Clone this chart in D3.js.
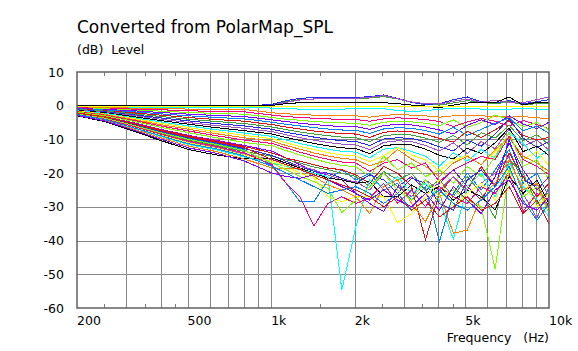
<!DOCTYPE html>
<html>
<head>
<meta charset="utf-8">
<script src="https://cdn.jsdelivr.net/npm/d3@7"></script>
<style>
body { margin: 0; background: #fff; }
text { font-family: "DejaVu Sans", Verdana, sans-serif; fill: #000; }
</style>
</head>
<body>
<div id="chart"></div>
<script>
// frequency points shared by every curve (Hz)
var freqs = [200, 252, 318, 400, 504, 635, 800, 1008, 1131, 1270, 1425, 1600, 1796, 2016,
             2263, 2540, 2851, 3200, 3592, 4032, 4525, 5080, 5702, 6400, 7184, 8063, 9051, 10000];

var yTicks = [10, 0, -10, -20, -30, -40, -50, -60];
var gridFreqs = [300, 400, 500, 600, 700, 800, 900, 1000, 2000, 3000, 4000, 5000, 6000, 7000, 8000, 9000];
var minorFreqs = [250, 350, 450, 1500, 2500, 3500, 4500];
var xLabelFreqs = [200, 500, 1000, 2000, 5000, 10000];
var xLabelText = ["200", "500", "1k", "2k", "5k", "10k"];

var palette = ["#40a040", "#2828e8", "#a050c8", "#000000", "#00ffff", "#ffff00",
               "#ff8000", "#ff0080", "#80ff00", "#8000ff", "#0080ff", "#e01010"];

// levels (dB), one array per curve
var lvl00 = [-0.3,-0.3,-0.3,-0.3,-0.4,-0.4,-0.4,0.3,1.2,1.8,2.0,2.0,2.0,2.1,2.3,2.7,2.0,1.0,0.3,0.2,0.8,1.5,1.0,0.5,1.2,0.3,0.6,0.8];
var lvl01 = [-0.1,-0.1,-0.1,-0.2,-0.2,-0.2,-0.1,0.4,1.5,2.2,2.4,2.4,2.4,2.4,2.7,3.2,2.2,1.0,0.4,0.6,1.8,2.6,1.2,0.8,1.5,0.6,1.2,1.8];
var lvl02 = [-0.2,-0.2,-0.2,-0.2,-0.3,-0.3,-0.3,0.1,1.0,1.7,2.0,2.0,2.1,2.2,2.5,3.0,2.1,1.1,0.6,0.5,1.3,2.0,1.0,1.6,1.0,0.9,1.8,2.6];
var lvl03 = [0,0,0,0,0,0,0,0.1,0.6,0.9,0.9,0.9,0.9,0.9,0.9,0.9,0.6,0.2,-0.1,-0.6,0.2,0.8,1.0,0.9,2.6,0.2,1.0,0.9];
var lvl04 = [-0.3,-0.3,-0.4,-0.4,-0.5,-0.5,-0.5,-0.7,-0.9,-1.0,-1.1,-1.1,-1.0,-0.9,-0.8,-0.9,-1.4,-1.7,-1.5,-1.0,-0.9,-0.8,-1.0,-1.2,-1.0,-0.9,-1.0,-1.0];
var lvl05 = [-0.1,-0.1,-0.2,-0.2,-0.2,-0.3,-0.3,-0.3,-0.3,-0.3,-0.3,-0.3,-0.3,-0.3,-0.3,-0.3,-0.3,-0.3,-0.3,-0.3,-0.3,-0.3,-0.3,-0.3,-0.3,-0.3,-0.3,-0.3];
var lvl06 = [-0.5,-0.6,-0.7,-0.8,-1.0,-1.1,-1.1,-2.1,-2.4,-2.6,-2.8,-2.9,-3.0,-3.0,-3.4,-2.9,-2.6,-2.8,-3.0,-3.4,-3.0,-2.8,-3.0,-3.2,-3.4,-3.2,-3.6,-3.8];
var lvl07 = [-0.6,-0.8,-1.0,-1.2,-1.5,-1.7,-1.8,-2.8,-3.2,-3.5,-3.7,-3.9,-4.1,-4.1,-4.6,-3.9,-3.6,-3.8,-4.1,-4.7,-6.2,-4.8,-3.8,-4.6,-6.0,-4.4,-5.6,-6.8];
var lvl08 = [-0.7,-0.9,-1.3,-1.6,-2.0,-2.3,-2.5,-3.5,-4.0,-4.3,-4.7,-4.9,-5.1,-5.2,-5.8,-4.9,-4.6,-4.8,-5.2,-5.9,-4.2,-6.4,-5.0,-2.8,-4.0,-6.2,-5.0,-7.2];
var lvl09 = [-0.8,-1.1,-1.5,-2.0,-2.5,-2.9,-3.2,-4.2,-4.7,-5.2,-5.6,-5.9,-6.2,-6.2,-7.0,-5.9,-5.5,-5.7,-6.3,-7.2,-8.4,-5.8,-4.2,-5.6,-3.0,-5.4,-6.8,-4.9];
var lvl10 = [-0.9,-1.3,-1.8,-2.4,-3.0,-3.5,-3.9,-4.9,-5.5,-6.0,-6.5,-6.9,-7.2,-7.3,-8.2,-6.9,-6.5,-6.7,-7.4,-8.4,-6.4,-8.8,-7.0,-5.2,-3.6,-7.4,-6.0,-8.2];
var lvl11 = [-1.0,-1.5,-2.1,-2.8,-3.5,-4.1,-4.6,-5.6,-6.3,-6.9,-7.5,-7.9,-8.3,-8.4,-9.4,-7.9,-7.5,-7.7,-8.5,-9.7,-10.8,-7.6,-9.4,-7.2,-4.4,-8.8,-10.2,-9.4];
var lvl12 = [-1.1,-1.6,-2.4,-3.2,-4.0,-4.7,-5.3,-6.3,-7.1,-7.8,-8.4,-8.9,-9.3,-9.5,-10.6,-8.9,-8.5,-8.7,-9.6,-10.9,-8.8,-11.6,-8.0,-9.6,-5.8,-10.4,-8.6,-11.6];
var lvl13 = [-1.2,-1.8,-2.7,-3.6,-4.5,-5.3,-6.0,-7.0,-7.9,-8.6,-9.3,-9.9,-10.4,-10.6,-11.8,-9.9,-9.5,-9.7,-10.7,-12.2,-13.4,-10.2,-12.0,-8.4,-3.8,-9.6,-12.4,-10.6];
var lvl14 = [-1.3,-2.0,-2.9,-4.0,-5.0,-5.9,-6.7,-7.7,-8.6,-9.5,-10.2,-10.9,-11.4,-11.6,-13.0,-10.9,-10.4,-10.6,-11.8,-13.4,-11.0,-14.2,-10.6,-12.8,-7.0,-12.0,-10.2,-13.2];
var lvl15 = [-1.4,-2.1,-3.2,-4.4,-5.5,-6.5,-7.4,-8.4,-9.4,-10.3,-11.2,-11.9,-12.5,-12.7,-14.2,-11.9,-11.4,-11.6,-12.9,-14.7,-15.8,-12.6,-14.2,-11.0,-6.6,-13.6,-12.0,-14.8];
var lvl16 = [-1.5,-2.3,-3.5,-4.8,-6.0,-7.1,-8.1,-9.1,-10.2,-11.2,-12.1,-12.9,-13.5,-13.8,-15.4,-12.9,-12.4,-13.6,-15.0,-17.9,-14.0,-16.4,-13.0,-15.6,-7.9,-11.2,-15.6,-12.8];
var lvl17 = [-1.6,-2.5,-3.8,-5.2,-6.5,-7.7,-8.8,-9.8,-11.0,-12.1,-13.0,-13.9,-14.6,-14.9,-16.6,-14.9,-12.4,-14.6,-16.1,-19.2,-16.1,-14.8,-17.6,-13.5,-9.4,-16.0,-13.6,-17.9];
var lvl18 = [-1.7,-2.6,-4.1,-5.6,-7.0,-8.3,-9.5,-10.5,-11.8,-12.9,-14.0,-14.9,-15.6,-16.0,-17.8,-16.5,-13.0,-15.8,-18.0,-21.0,-17.0,-15.0,-17.5,-13.0,-9.5,-15.0,-17.0,-19.5];
var lvl19 = [-1.8,-2.8,-4.3,-6.0,-7.5,-8.9,-10.2,-11.2,-12.5,-13.8,-14.9,-15.9,-16.7,-17.0,-19.5,-17.0,-16.0,-18.5,-17.0,-22.5,-19.0,-17.0,-15.0,-16.0,-9.0,-16.0,-18.0,-20.5];
var lvl20 = [-1.9,-3.0,-4.6,-6.4,-8.0,-9.5,-10.9,-11.9,-13.3,-14.6,-15.8,-16.9,-17.7,-18.1,-21.0,-15.0,-19.0,-17.0,-21.0,-19.0,-23.0,-18.0,-21.0,-15.0,-8.0,-18.0,-16.0,-22.0];
var lvl21 = [-2.1,-3.3,-5.0,-7.0,-8.8,-10.3,-11.8,-13.5,-15.5,-17.5,-19.5,-20.5,-22,-26,-29,-31.4,-24,-21,-25,-23,-19,-24,-28,-21,-11,-19,-25,-21];
var lvl22 = [-2.3,-3.6,-5.6,-7.8,-9.8,-11.3,-13.0,-18,-23,-28.5,-28.5,-22,-19,-22,-20,-25,-23,-28,-24,-40.3,-26,-20,-25,-19,-13,-23,-20,-27];
var lvl23 = [-2.1,-3.3,-5.2,-7.2,-9.0,-10.5,-12.1,-14,-15.5,-16.5,-17.5,-18.5,-19,-20.5,-23,-18,-20,-24,-39.8,-26,-21,-25,-18,-24,-14,-21,-27,-23];
var lvl24 = [-2.4,-3.8,-5.9,-8.2,-10.3,-11.8,-13.6,-15,-16,-17,-18.2,-19,-20,-21,-24,-19.5,-22,-20,-25,-22,-27,-21,-26,-33.4,-16,-20,-29,-25];
var lvl25 = [-2.2,-3.5,-5.5,-7.6,-9.5,-11.0,-12.7,-14.8,-16.5,-18,-19.5,-20,-21.5,-23,-20.5,-22,-26,-21.5,-23,-29,-31,-22,-19,-24,-10,-22,-24,-30];
var lvl26 = [-2.5,-3.9,-6.2,-8.5,-10.8,-12.3,-14.3,-16,-17,-18,-19,-20.5,-22,-22.5,-25,-20,-24,-27,-22,-25,-21,-26,-23,-20,-15,-26,-33.4,-24];
var lvl27 = [-3.0,-4.7,-7.5,-10.3,-13.0,-14.6,-15.8,-15.5,-17,-18.5,-20,-21.5,-22,-23,-22.5,-27,-27,-23.5,-26,-24,-28,-25,-27,-30.9,-21,-26,-22,-29];
var lvl28 = [-2.7,-4.2,-6.6,-9.1,-11.5,-13.1,-15.2,-17,-18,-19,-20,-21,-54.7,-36,-22,-24,-21,-26,-23,-28,-39.6,-24,-20,-27,-17,-24,-28,-33];
var lvl29 = [-2.6,-4.0,-6.3,-8.7,-11.0,-12.6,-14.6,-16.5,-18,-20,-21.5,-27,-28.5,-27,-27,-27,-34.7,-32,-27,-22,-30,-26,-23,-28,-18,-22,-30,-26];
var lvl30 = [-2.8,-4.4,-6.9,-9.5,-12.0,-13.6,-15.8,-18.5,-18.5,-18.7,-21,-23.5,-25,-27,-32,-24,-22,-29,-34.4,-26,-37.8,-36.9,-27,-23,-16,-25,-23,-31];
var lvl31 = [-2.5,-3.9,-6.1,-8.4,-10.5,-12.1,-14.0,-17.5,-23,-27,-35.7,-29,-27,-29,-27.4,-23,-29,-25,-30,-24,-27,-29,-24,-26,-20,-31.4,-26,-28];
var lvl32 = [-2.3,-3.7,-5.8,-8.0,-10.0,-11.5,-13.3,-17,-19,-21,-22.5,-24.5,-31.7,-28,-24,-20,-25,-28,-22,-27,-25,-28,-30,-48.5,-19,-27,-24,-31.9];
var lvl33 = [-2.9,-4.5,-7.2,-9.9,-12.5,-14.1,-16.4,-20,-21,-21.5,-20.5,-22,-24,-26,-28,-25,-28,-30,-26,-31,-24,-28,-32,-25,-22,-29,-31,-27];
var lvl34 = [-2.6,-4.1,-6.5,-8.9,-11.3,-12.8,-14.9,-18,-20,-22,-24,-26,-25,-24,-26,-29,-26,-31,-28,-25,-29,-31,-28,-24,-18,-28,-34,-29];
var lvl35 = [-2.2,-3.4,-5.3,-7.4,-9.3,-10.8,-12.4,-16,-17.5,-19,-20.5,-22,-23.5,-25,-27,-30,-27,-31,-28,-33,-30,-27,-31,-29,-24,-32,-28,-35];

var curves = [lvl00, lvl01, lvl02, lvl03, lvl04, lvl05, lvl06, lvl07, lvl08, lvl09, lvl10, lvl11,
              lvl12, lvl13, lvl14, lvl15, lvl16, lvl17, lvl18, lvl19, lvl20, lvl21, lvl22, lvl23,
              lvl24, lvl25, lvl26, lvl27, lvl28, lvl29, lvl30, lvl31, lvl32, lvl33, lvl34, lvl35];

var width = 578, height = 351;
var plotLeft = 77, plotRight = 549, plotTop = 72, plotBottom = 308;

var svg = d3.select("#chart").append("svg")
    .attr("width", width)
    .attr("height", height);

var x = d3.scaleLog().domain([200, 10000]).range([plotLeft, plotRight]);
var y = d3.scaleLinear().domain([-60, 10]).range([plotBottom, plotTop]);

function px(v) { return Math.round(v) + 0.5; }

// title and unit label
svg.append("text")
    .attr("x", 77).attr("y", 33)
    .style("font-size", "17px")
    .text("Converted from PolarMap_SPL");

svg.append("text")
    .attr("x", 77).attr("y", 54)
    .style("font-size", "12.5px")
    .style("white-space", "pre")
    .text("(dB)  Level");

// grid
var grid = svg.append("g").attr("stroke", "#888888").attr("stroke-width", 1);

grid.selectAll(".vgrid")
    .data(gridFreqs)
    .enter().append("line")
    .attr("x1", function(d) { return px(x(d)); })
    .attr("x2", function(d) { return px(x(d)); })
    .attr("y1", plotTop)
    .attr("y2", plotBottom);

grid.selectAll(".hgrid")
    .data(yTicks.filter(function(d) { return d > -60 && d < 10; }))
    .enter().append("line")
    .attr("x1", plotLeft)
    .attr("x2", plotRight)
    .attr("y1", function(d) { return px(y(d)); })
    .attr("y2", function(d) { return px(y(d)); });

// minor ticks at top and bottom
var ticks = svg.append("g").attr("stroke", "#7a7a7a").attr("stroke-width", 1);
minorFreqs.forEach(function(f)
{
    ticks.append("line")
        .attr("x1", px(x(f))).attr("x2", px(x(f)))
        .attr("y1", plotTop).attr("y2", plotTop + 4);
    ticks.append("line")
        .attr("x1", px(x(f))).attr("x2", px(x(f)))
        .attr("y1", plotBottom - 4).attr("y2", plotBottom);
});

// curves
svg.append("clipPath").attr("id", "plotClip")
    .append("rect")
    .attr("x", plotLeft).attr("y", plotTop)
    .attr("width", plotRight - plotLeft).attr("height", plotBottom - plotTop);

var line = d3.line()
    .defined(function(d) { return d[1] != null; })
    .x(function(d) { return x(d[0]); })
    .y(function(d) { return y(d[1]); });

svg.append("g")
    .attr("clip-path", "url(#plotClip)")
    .selectAll("path")
    .data(curves)
    .enter().append("path")
    .attr("d", function(d)
    {
        return line(freqs.map(function(f, i) { return [f, d[i]]; }));
    })
    .attr("fill", "none")
    .attr("stroke", function(d, i) { return palette[i % palette.length]; })
    .attr("stroke-width", 1)
    .attr("shape-rendering", "crispEdges");

// frame
svg.append("rect")
    .attr("x", plotLeft).attr("y", plotTop)
    .attr("width", plotRight - plotLeft).attr("height", plotBottom - plotTop)
    .attr("fill", "none")
    .attr("stroke", "#606060")
    .attr("stroke-width", 1.5);

// y labels
svg.append("g").selectAll("text")
    .data(yTicks)
    .enter().append("text")
    .attr("x", 64)
    .attr("y", function(d) { return y(d) + 4.5; })
    .attr("text-anchor", "end")
    .style("font-size", "12.5px")
    .text(function(d) { return d; });

// x labels (left aligned on their tick)
svg.append("g").selectAll("text")
    .data(xLabelFreqs)
    .enter().append("text")
    .attr("x", function(d) { return x(d); })
    .attr("y", 325)
    .style("font-size", "12.5px")
    .text(function(d, i) { return xLabelText[i]; });

svg.append("text")
    .attr("x", 549).attr("y", 342)
    .attr("text-anchor", "end")
    .style("font-size", "12.5px")
    .style("white-space", "pre")
    .text("Frequency   (Hz)");
</script>
</body>
</html>
